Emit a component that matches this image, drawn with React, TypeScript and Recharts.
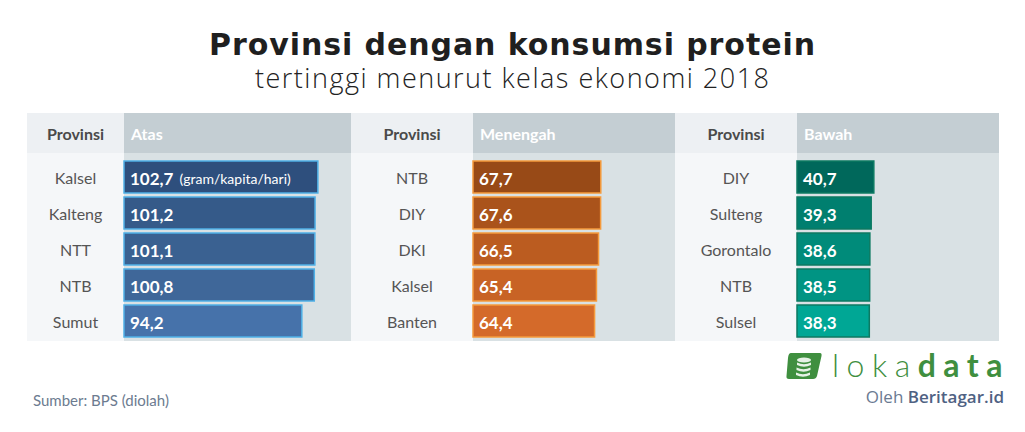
import React from "react"
import { BarChart, Bar, XAxis, YAxis, Cell, LabelList } from "recharts"

const atasProv = ["Kalsel", "Kalteng", "NTT", "NTB", "Sumut"]
const atasVal = [102.7, 101.2, 101.1, 100.8, 94.2]
const menengahProv = ["NTB", "DIY", "DKI", "Kalsel", "Banten"]
const menengahVal = [67.7, 67.6, 66.5, 65.4, 64.4]
const bawahProv = ["DIY", "Sulteng", "Gorontalo", "NTB", "Sulsel"]
const bawahVal = [40.7, 39.3, 38.6, 38.5, 38.3]

const atasColors = ["#2e4f7d", "#355a89", "#3a6191", "#3f6799", "#4672aa"]
const menengahColors = ["#984a17", "#aa531b", "#bb5c20", "#c86325", "#d46a2a"]
const bawahColors = ["#00685b", "#007f6f", "#008b7a", "#009483", "#00a795"]

const FONT = "Lato, 'Open Sans', sans-serif"
const fmt = (v: number) => v.toFixed(1).replace(".", ",")

type PanelProps = {
  left: number
  provW: number
  barW: number
  title: string
  provs: string[]
  values: number[]
  colors: string[]
  stroke: string
  unit?: string
}

function Panel({ left, provW, barW, title, provs, values, colors, stroke, unit }: PanelProps) {
  const data = provs.map((p, i) => ({ prov: p, value: values[i] }))

  const renderTick = ({ y, payload }: any) => (
    <text
      x={provW / 2}
      y={y}
      textAnchor="middle"
      dominantBaseline="central"
      fill="#555"
      style={{ fontFamily: FONT, fontSize: 16 }}
    >
      {payload.value}
    </text>
  )

  const renderLabel = (p: any) => {
    const { x, y, height, value, index } = p
    return (
      <text
        x={x + 6}
        y={y + height / 2 + 1}
        dominantBaseline="central"
        fill="#fff"
        style={{ fontFamily: FONT, fontSize: 17, fontWeight: 700 }}
      >
        {fmt(value)}
        {unit && index === 0 ? (
          <tspan dx={6} style={{ fontSize: 14, fontWeight: 400 }}>
            {unit}
          </tspan>
        ) : null}
      </text>
    )
  }

  return (
    <div style={{ position: "absolute", left, top: 113, width: provW + barW, height: 228 }}>
      {/* header */}
      <div
        style={{
          position: "absolute", left: 0, top: 0, width: provW, height: 40,
          background: "#edf0f3", color: "#4a4a4a", fontFamily: FONT, fontWeight: 700,
          fontSize: 16, display: "flex", alignItems: "center", justifyContent: "center",
        }}
      >
        Provinsi
      </div>
      <div
        style={{
          position: "absolute", left: provW, top: 0, width: barW, height: 40,
          background: "#c4ced3", color: "#fff", fontFamily: FONT, fontWeight: 700,
          fontSize: 16, display: "flex", alignItems: "center", paddingLeft: 7, boxSizing: "border-box",
        }}
      >
        {title}
      </div>
      {/* body */}
      <div style={{ position: "absolute", left: 0, top: 40, width: provW, height: 188, background: "#f5f7f9" }} />
      <div style={{ position: "absolute", left: provW, top: 40, width: barW, height: 188, background: "#d9e1e4" }} />
      <div style={{ position: "absolute", left: 0, top: 40 }}>
        <BarChart
          width={provW + barW}
          height={188}
          layout="vertical"
          data={data}
          margin={{ top: 6, bottom: 2, left: 0, right: barW - 202 }}
        >
          <XAxis type="number" domain={[0, 107]} hide />
          <YAxis
            type="category"
            dataKey="prov"
            width={provW}
            axisLine={false}
            tickLine={false}
            tick={renderTick}
            interval={0}
          />
          <Bar dataKey="value" barSize={32} stroke={stroke} strokeWidth={1.5} isAnimationActive={false}>
            {data.map((d, i) => (
              <Cell key={d.prov} fill={colors[i]} />
            ))}
            <LabelList dataKey="value" content={renderLabel} />
          </Bar>
        </BarChart>
      </div>
    </div>
  )
}

export default function App() {
  return (
    <div
      style={{
        position: "absolute", left: 0, top: 0, width: 1025, height: 432,
        background: "#fff", overflow: "hidden",
      }}
    >
      <svg style={{ position: "absolute", left: 0, top: 0 }} width={1025} height={110}>
        <text
          x={512}
          y={55}
          textAnchor="middle"
          textLength={606}
          lengthAdjust="spacing"
          fill="#1f1f1f"
          style={{ fontFamily: "'DejaVu Sans', sans-serif", fontWeight: 700, fontSize: 30 }}
        >
          Provinsi dengan konsumsi protein
        </text>
        <text
          x={512}
          y={88}
          textAnchor="middle"
          textLength={514}
          lengthAdjust="spacing"
          fill="#222"
          style={{ fontFamily: "'Open Sans', sans-serif", fontWeight: 300, fontSize: 27 }}
        >
          tertinggi menurut kelas ekonomi 2018
        </text>
      </svg>

      <Panel left={27} provW={97} barW={227} title="Atas" provs={atasProv} values={atasVal}
        colors={atasColors} stroke="#4fb0e6" unit="(gram/kapita/hari)" />
      <Panel left={351} provW={122} barW={202} title="Menengah" provs={menengahProv} values={menengahVal}
        colors={menengahColors} stroke="#f59a3c" />
      <Panel left={675} provW={122} barW={202} title="Bawah" provs={bawahProv} values={bawahVal}
        colors={bawahColors} stroke="#0c7a62" />

      <div
        style={{
          position: "absolute", left: 33, top: 391, fontFamily: FONT, fontSize: 15, color: "#6c7b90",
        }}
      >
        Sumber: BPS (diolah)
      </div>

      {/* logo */}
      <svg style={{ position: "absolute", left: 785, top: 350 }} width={38} height={32} viewBox="0 0 38 32">
        <path d="M6 3 L35 3 Q37 3 36.5 6 L32 26 Q31 29 28 29 L4 29 Q1 29 1.5 26 L3 8 Q3.5 3 6 3 Z" fill="#3f8f3f" />
        <ellipse cx={19} cy={10} rx={7} ry={2.6} fill="#e6f2e6" />
        <path d="M12 12.5 Q19 16 26 12.5 L26 15 Q19 18.5 12 15 Z" fill="#e6f2e6" />
        <path d="M11.5 17.5 Q18.5 21 25.5 17.5 L25.5 20 Q18.5 23.5 11.5 20 Z" fill="#e6f2e6" />
        <path d="M11 22.5 Q18 26 25 22.5 L25 25 Q18 28.5 11 25 Z" fill="#e6f2e6" />
      </svg>
      <div
        style={{
          position: "absolute", left: 832, top: 345, fontFamily: FONT, fontSize: 32,
          color: "#3f8f3f", letterSpacing: 7.5, lineHeight: "40px",
        }}
      >
        <span style={{ fontWeight: 300 }}>loka</span>
        <span style={{ fontWeight: 700 }}>data</span>
      </div>
      <div
        style={{
          position: "absolute", right: 21, top: 385, fontFamily: "'Open Sans', sans-serif", fontSize: 17,
          color: "#4f6283",
        }}
      >
        <span style={{ color: "#6b7a92" }}>Oleh </span>
        <span style={{ fontWeight: 600 }}>Beritagar.id</span>
      </div>
    </div>
  )
}
